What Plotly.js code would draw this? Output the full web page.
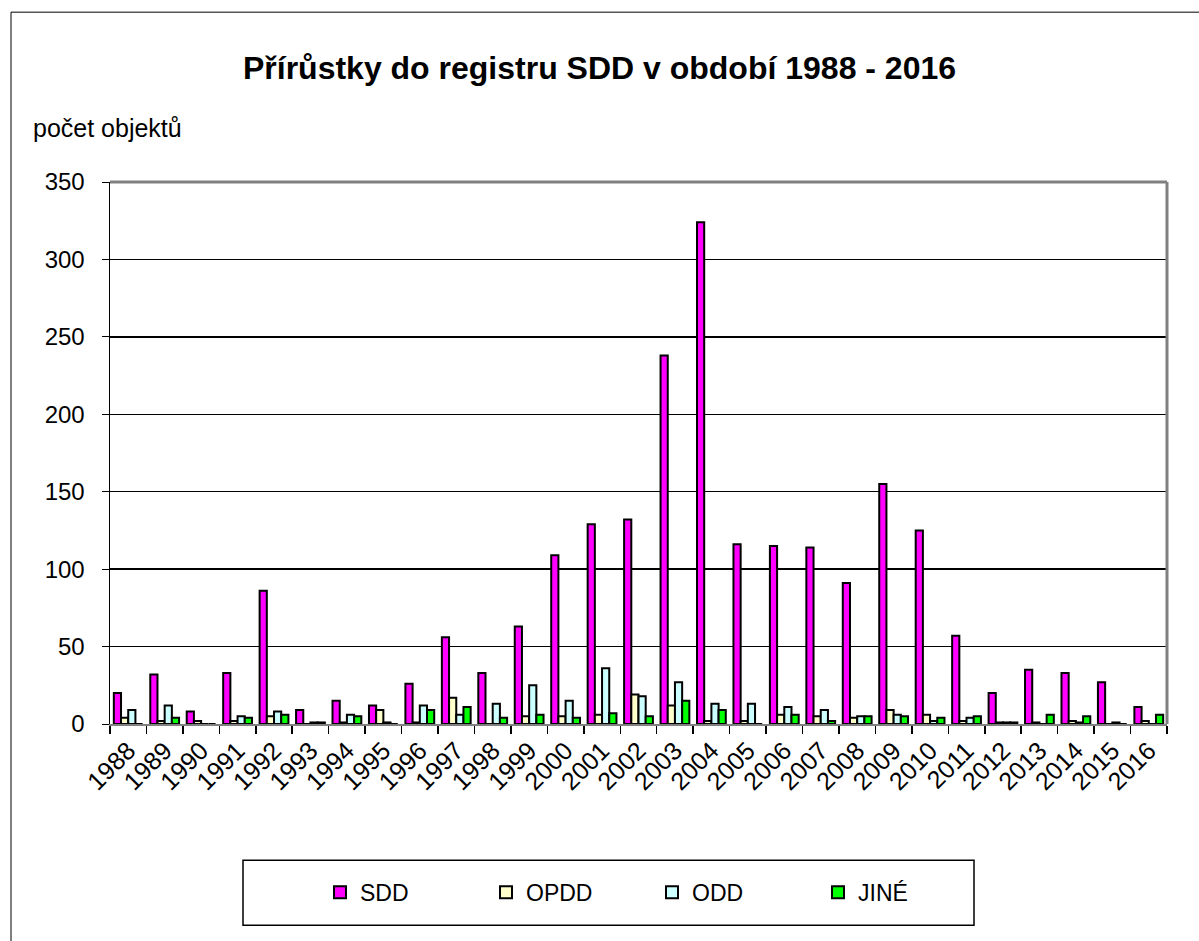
<!DOCTYPE html>
<html>
<head>
<meta charset="utf-8">
<script src="https://cdn.plot.ly/plotly-3.0.1.min.js"></script>
<style>
  html, body { margin: 0; padding: 0; background: #fff; }
  #chart { width: 1199px; height: 941px; }
</style>
</head>
<body>
<div id="chart"></div>
<script>
const years = ["1988","1989","1990","1991","1992","1993","1994","1995","1996","1997","1998","1999","2000","2001","2002","2003","2004","2005","2006","2007","2008","2009","2010","2011","2012","2013","2014","2015","2016"];
const sdd  = [20,32,8,33,86,9,15,12,26,56,33,63,109,129,132,238,324,116,115,114,91,155,125,57,20,35,33,27,11];
const opdd = [4,2,2,2,5,0,1,9,1,17,0,5,5,6,19,12,2,2,6,5,4,9,6,2,1,1,2,0,2];
const odd  = [9,12,0,5,8,1,6,1,12,6,13,25,15,36,18,27,13,13,11,9,5,6,2,4,1,0,1,1,0];
const jine = [0,4,0,4,6,1,5,0,9,11,4,6,4,7,5,15,9,0,6,2,5,5,4,5,1,6,5,0,6];

const seriesNames = ["SDD","OPDD","ODD","JINÉ"];
const seriesColors = ["#FF00FF","#FFFFCC","#CCFFFF","#00FF00"];
const seriesValues = [sdd, opdd, odd, jine];

const FONT = "Arial, 'Liberation Sans', sans-serif";

const traces = seriesValues.map((vals, i) => ({
  type: "bar",
  name: seriesNames[i],
  x: years,
  y: vals,
  marker: { color: seriesColors[i], line: { color: "#000000", width: 2 } },
  hoverinfo: "x+y+name"
}));

// plot area in px
const L = 110, R = 1167, T = 182, B = 724.5;
const PW = R - L, PH = B - T;
const px = v => (v - L) / PW;
const py = v => (B - v) / PH;

const layout = {
  width: 1199, height: 941,
  margin: { l: L, r: 1199 - R, t: T, b: 941 - B, pad: 0 },
  paper_bgcolor: "#ffffff",
  plot_bgcolor: "#ffffff",
  font: { family: FONT, color: "#000000", size: 20 },
  title: {
    text: "Přírůstky do registru SDD v období 1988 - 2016",
    font: { family: FONT, size: 32, weight: "bold", color: "#000" },
    x: 0.5, xanchor: "center", xref: "container",
    y: 1 - 68 / 941, yanchor: "middle", yref: "container"
  },
  barmode: "group",
  bargap: 0.21,
  bargroupgap: 0,
  xaxis: {
    type: "category",
    tickangle: -45,
    tickson: "boundaries",
    ticks: "outside", ticklen: 8, tickwidth: 1.5, tickcolor: "#000",
    showline: true, linecolor: "#808080", linewidth: 2,
    showgrid: false, zeroline: false,
    tickfont: { family: FONT, size: 25, color: "#000" },
    fixedrange: true
  },
  yaxis: {
    range: [0, 350],
    tickmode: "array",
    tickvals: [0,50,100,150,200,250,300,350],
    ticktext: ["0","50","100","150","200","250","300","350"],
    ticks: "outside", ticklen: 7, tickwidth: 1, tickcolor: "#000",
    ticklabelstandoff: 12,
    showline: true, linecolor: "#000", linewidth: 1.5,
    showgrid: true, gridcolor: "#000", gridwidth: 1.3,
    zeroline: false,
    tickfont: { family: FONT, size: 24, color: "#000" },
    fixedrange: true
  },
  showlegend: true,
  legend: {
    orientation: "h",
    x: px(320), xanchor: "left",
    y: py(893), yanchor: "middle",
    bgcolor: "rgba(0,0,0,0)",
    borderwidth: 0,
    font: { family: FONT, size: 23, color: "#000" },
    entrywidth: 121, entrywidthmode: "pixels",
    traceorder: "normal"
  },
  annotations: [{
    text: "počet objektů",
    xref: "paper", yref: "paper",
    x: px(31), xanchor: "left",
    y: py(128), yanchor: "middle",
    showarrow: false,
    font: { family: FONT, size: 25, color: "#000" }
  }],
  shapes: [
    { type: "line", xref: "paper", yref: "paper", x0: 0, x1: 1, y0: 1, y1: 1, line: { color: "#808080", width: 3 } },
    { type: "line", xref: "paper", yref: "paper", x0: 1, x1: 1, y0: 0, y1: 1, line: { color: "#808080", width: 3 } },
    { type: "rect", xref: "paper", yref: "paper", x0: px(243), x1: px(974), y0: py(861), y1: py(926), line: { color: "#000", width: 1.5 }, fillcolor: "rgba(0,0,0,0)" },
    { type: "line", xref: "paper", yref: "paper", x0: px(11), x1: px(11), y0: py(12), y1: py(945), line: { color: "#000", width: 1 } },
    { type: "line", xref: "paper", yref: "paper", x0: px(11), x1: px(1205), y0: py(12), y1: py(12), line: { color: "#000", width: 1 } }
  ]
};

Plotly.newPlot("chart", traces, layout, { displayModeBar: false, staticPlot: true });
</script>
</body>
</html>
